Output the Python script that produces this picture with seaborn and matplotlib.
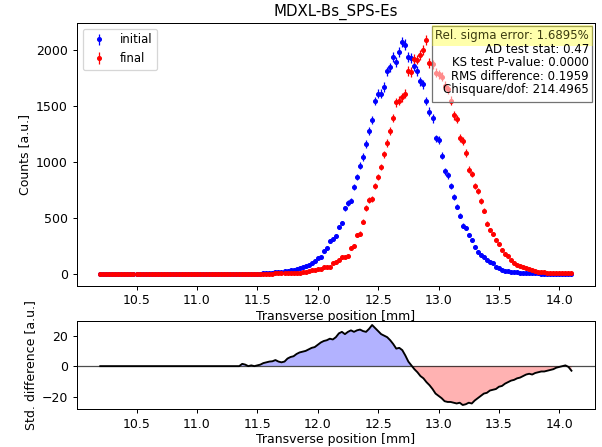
import numpy as np
import matplotlib
matplotlib.use("Agg")
import matplotlib.pyplot as plt
import matplotlib.transforms as mtransforms
from matplotlib.patches import Rectangle
import seaborn as sns

# ---- data ----
x_start, x_step, n_pts = 10.2, 0.025, 157
positions = np.round(x_start + x_step * np.arange(n_pts), 3)

initial_counts = (
    [0] * 54 +
    [3, 5, 8, 10, 14, 18, 20, 24, 28, 33, 38, 42, 50, 58, 68, 79, 92, 110,
     140, 150, 200, 235, 290, 310, 340, 420, 455, 585, 635, 655, 775, 865, 965, 1045,
     1160, 1275, 1375, 1545, 1610, 1610, 1670, 1810, 1845, 1940, 1895, 1985, 2070, 2050,
     1940, 1930, 1860, 1815, 1720, 1695, 1545, 1450, 1390, 1210, 1195, 1055, 915, 880,
     785, 690, 600, 520, 430, 410, 345, 300, 240, 195, 168, 152, 120, 105, 92, 64,
     48, 35, 28, 22, 18, 14, 12, 10, 8, 7, 6, 5, 4, 3,
     2, 2, 1, 1, 1, 1, 0, 0, 0, 0, 0]
)

final_counts = (
    [0] * 57 +
    [2, 3, 4, 5, 6, 7, 8, 9, 10, 11, 12, 14, 22, 33, 38,
     41, 45, 58, 64, 65, 94, 108, 123, 150, 148, 155, 235, 245, 350, 360, 465, 590, 660, 668,
     785, 867, 955, 1068, 1167, 1279, 1393, 1534, 1549, 1580, 1608, 1814, 1805, 1922, 1916,
     1960, 2000, 2090, 1887, 1872, 1800, 1784, 1764, 1682, 1652, 1549, 1417, 1387, 1211,
     1188, 1079, 932, 893, 785, 741, 653, 564, 447, 394, 359, 300, 265, 212, 176, 159,
     123, 94, 80, 70, 59, 50, 41, 32, 24, 20, 16, 13, 11, 9, 8, 7, 6, 6, 5, 5, 5]
)

std_difference = (
    [0.0] * 47 +
    [1.5, 1.0, 0.0, 0.5, 0.0, 0.5, 1.0, 2.0, 2.5, 3.0, 3.2, 4.0, 3.0, 2.5, 3.0,
     5.0, 6.0, 6.5, 8.0, 9.0, 9.5, 10.0, 11.0, 12.0, 12.5, 14.0, 15.5, 16.5, 17.0,
     18.0, 17.5, 19.0, 21.5, 22.5, 21.0, 22.5, 23.5, 22.5, 23.5, 24.0, 23.0, 22.5,
     24.5, 27.0, 25.0, 23.0, 21.0, 20.0, 19.0, 17.0, 14.5, 11.5, 12.0, 10.5, 7.0,
     3.0, 0.5, -2.0, -4.0, -6.5, -8.0, -10.5, -12.5, -15.0, -18.0, -19.5, -21.0,
     -23.0, -23.5, -23.5, -24.0, -24.5, -24.0, -25.5, -25.0, -24.0, -24.5, -22.5,
     -21.0, -19.5, -18.0, -17.5, -16.0, -15.5, -15.0, -13.5, -13.0, -11.5, -10.5,
     -9.5, -9.0, -8.0, -7.5, -6.5, -5.5, -5.0, -5.5, -4.5, -4.0, -3.5, -3.5, -3.0,
     -2.5, -2.0, -1.0, -0.5, 0.0, 0.5, -0.5, -3.0]
)

series_labels = ["initial", "final"]
title_text = "MDXL-Bs_SPS-Es"
stats_lines = [
    "Rel. sigma error: 1.6895%",
    "AD test stat: 0.47",
    "KS test P-value: 0.0000",
    "RMS difference: 0.1959",
    "Chisquare/dof: 214.4965",
]

initial_counts = np.array(initial_counts, dtype=float)
final_counts = np.array(final_counts, dtype=float)
std_difference = np.array(std_difference, dtype=float)

# ---- figure ----
DPI = 90
PX = 72 / DPI
fig = plt.figure(figsize=(602 / DPI, 447 / DPI), dpi=DPI)
ax1 = fig.add_axes([0.1274, 0.3608, 0.861, 0.5877])
ax2 = fig.add_axes([0.1274, 0.085, 0.861, 0.1969], sharex=ax1)

ax1.errorbar(positions, initial_counts, yerr=np.sqrt(initial_counts), fmt="o",
             color="b", ms=3.0, elinewidth=1.0, label=series_labels[0])
ax1.errorbar(positions, final_counts, yerr=np.sqrt(final_counts), fmt="o",
             color="r", ms=3.0, elinewidth=1.0, label=series_labels[1])
ax1.set_title(title_text, fontsize=12)
ax1.set_ylabel("Counts [a.u.]")
ax1.set_xlabel("Transverse position [mm]", labelpad=2)
ax1.legend(loc="upper left", fontsize=9.3)
ax1.tick_params(labelbottom=True)

# statistics box
fs = 9.4
anchor = mtransforms.offset_copy(ax1.transAxes, fig=fig, x=-6 * PX, y=-6 * PX,
                                 units="points")
t1 = ax1.text(1.0, 1.0, stats_lines[0], transform=anchor, ha="right", va="top",
              fontsize=fs, color="#3c3c10", zorder=6,
              bbox=dict(boxstyle="square,pad=0.3", fc=(1, 1, 0, 0.33), ec="none"))
anchor2 = mtransforms.offset_copy(anchor, fig=fig, x=0, y=-13.8 * PX, units="points")
t2 = ax1.text(1.0, 1.0, "\n".join(stats_lines[1:]), transform=anchor2, ha="right", va="top",
              fontsize=fs, linespacing=1.05, color="k", zorder=6)
fig.canvas.draw()
renderer = fig.canvas.get_renderer()
b1 = t1.get_window_extent(renderer)
b2 = t2.get_window_extent(renderer)
pad = 3
x0 = min(b1.x0, b2.x0) - pad
x1 = max(b1.x1, b2.x1) + pad
y0 = min(b1.y0, b2.y0) - pad - 3
y1 = max(b1.y1, b2.y1) + pad
inv = ax1.transAxes.inverted()
(ax0_, ay0_), (ax1_, ay1_) = inv.transform([(x0, y0), (x1, y1)])
ax1.add_patch(Rectangle((ax0_, ay0_), ax1_ - ax0_, ay1_ - ay0_, transform=ax1.transAxes,
                        fc=(1, 1, 1, 0.55), ec="0.45", lw=1.0, zorder=5))

# lower panel
ax2.axhline(0, color="k", lw=1.0, alpha=0.7)
ax2.fill_between(positions, std_difference, 0, where=std_difference >= 0,
                 color="b", alpha=0.3, lw=0, interpolate=True)
ax2.fill_between(positions, std_difference, 0, where=std_difference <= 0,
                 color="r", alpha=0.3, lw=0, interpolate=True)
sns.lineplot(x=positions, y=std_difference, ax=ax2, color="k", lw=1.5)
ax2.set_yticks([-20, 0, 20])
ax2.set_ylabel("Std. difference [a.u.]")
ax2.set_xlabel("Transverse position [mm]", labelpad=2)
ax2.set_xticks([10.5, 11.0, 11.5, 12.0, 12.5, 13.0, 13.5, 14.0])

fig.savefig("out.png", dpi=DPI)
